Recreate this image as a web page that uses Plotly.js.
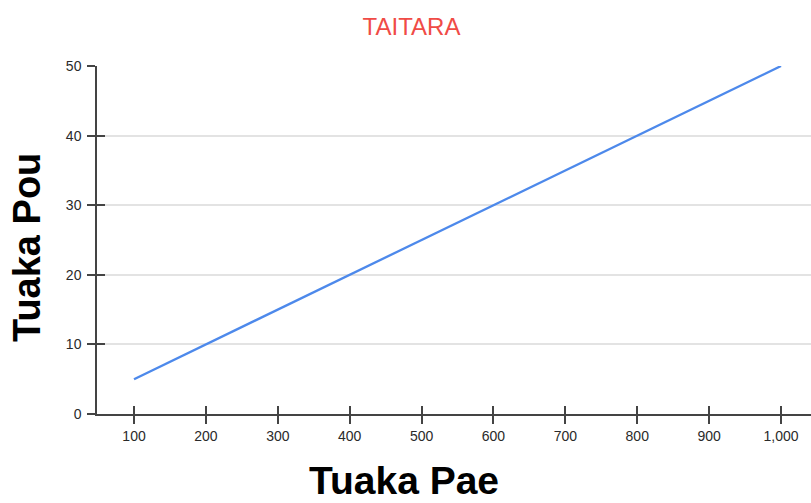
<!DOCTYPE html>
<html>
<head>
<meta charset="utf-8">
<script src="https://cdn.plot.ly/plotly-3.0.1.min.js"></script>
<style>html,body{margin:0;padding:0;background:#fff;}#chart{width:811px;height:503px;}</style>
</head>
<body>
<div id="chart"></div>
<script>
const xValues = [100, 200, 300, 400, 500, 600, 700, 800, 900, 1000];
const yValues = [5, 10, 15, 20, 25, 30, 35, 40, 45, 50];
const xTickVals = [100, 200, 300, 400, 500, 600, 700, 800, 900, 1000];
const xTickText = ['100', '200', '300', '400', '500', '600', '700', '800', '900', '1,000'];
const yTickVals = [0, 10, 20, 30, 40, 50];
const chartTitle = 'TAITARA';
const xTitle = 'Tuaka Pae';
const yTitle = 'Tuaka Pou';

const FONT = 'Arial, "Liberation Sans", sans-serif';
const xRange = [48.5, 1041.7];
const yRange = [0, 50];

const traces = [
  {
    x: xValues, y: yValues, type: 'scatter', mode: 'lines',
    line: {color: 'rgb(77,137,235)', width: 2.3},
    hoverinfo: 'x+y', showlegend: false
  },
  {
    x: xValues, y: yValues, type: 'scatter', mode: 'lines',
    xaxis: 'x2', yaxis: 'y2',
    line: {color: 'rgba(0,0,0,0)', width: 0},
    hoverinfo: 'skip', showlegend: false
  }
];

const layout = {
  width: 811, height: 503,
  margin: {l: 97, r: 0, t: 66, b: 89},
  paper_bgcolor: '#fff', plot_bgcolor: '#fff',
  font: {family: FONT, color: '#333'},
  showlegend: false,
  title: {
    text: chartTitle,
    font: {family: FONT, size: 24, color: 'rgb(240,75,70)'},
    xref: 'paper', x: (411.5 - 97) / 714, xanchor: 'center',
    yref: 'container', y: 1 - 27 / 503, yanchor: 'middle'
  },
  xaxis: {
    range: xRange, tickvals: xTickVals, ticktext: xTickText,
    showgrid: false, zeroline: false,
    showline: true, linecolor: '#444', linewidth: 1.5,
    ticks: 'outside', ticklen: 8, tickwidth: 1.5, tickcolor: '#444',
    tickfont: {family: FONT, size: 14, color: '#2a2a2a'}
  },
  yaxis: {
    range: yRange, tickvals: yTickVals,
    showgrid: true, gridcolor: '#e3e3e3', gridwidth: 1.5,
    zeroline: false,
    showline: true, linecolor: '#444', linewidth: 1.5,
    ticks: 'outside', ticklen: 8, tickwidth: 1.5, tickcolor: '#444',
    ticklabelstandoff: 3,
    tickfont: {family: FONT, size: 14, color: '#2a2a2a'}
  },
  xaxis2: {
    overlaying: 'x', anchor: 'y2', range: xRange, tickvals: xTickVals,
    showticklabels: false, showgrid: false, zeroline: false, showline: false,
    ticks: 'inside', ticklen: 8, tickwidth: 1.5, tickcolor: '#444'
  },
  yaxis2: {
    overlaying: 'y', anchor: 'x2', range: yRange, tickvals: yTickVals,
    showticklabels: false, showgrid: false, zeroline: false, showline: false,
    ticks: 'inside', ticklen: 8, tickwidth: 1.5, tickcolor: '#444'
  },
  annotations: [
    {
      text: '<b>' + xTitle + '</b>', xref: 'paper', yref: 'paper',
      x: (403.5 - 97) / 714, y: -(480 - 414) / 348, xanchor: 'center', yanchor: 'middle',
      showarrow: false, font: {family: FONT, size: 39, color: '#000'}
    },
    {
      text: '<b>' + yTitle + '</b>', xref: 'paper', yref: 'paper',
      x: (27 - 97) / 714, y: (414 - 248) / 348, xanchor: 'center', yanchor: 'middle',
      textangle: -90,
      showarrow: false, font: {family: FONT, size: 38, color: '#000'}
    }
  ]
};

Plotly.newPlot('chart', traces, layout, {displayModeBar: false, responsive: false});
</script>
</body>
</html>
